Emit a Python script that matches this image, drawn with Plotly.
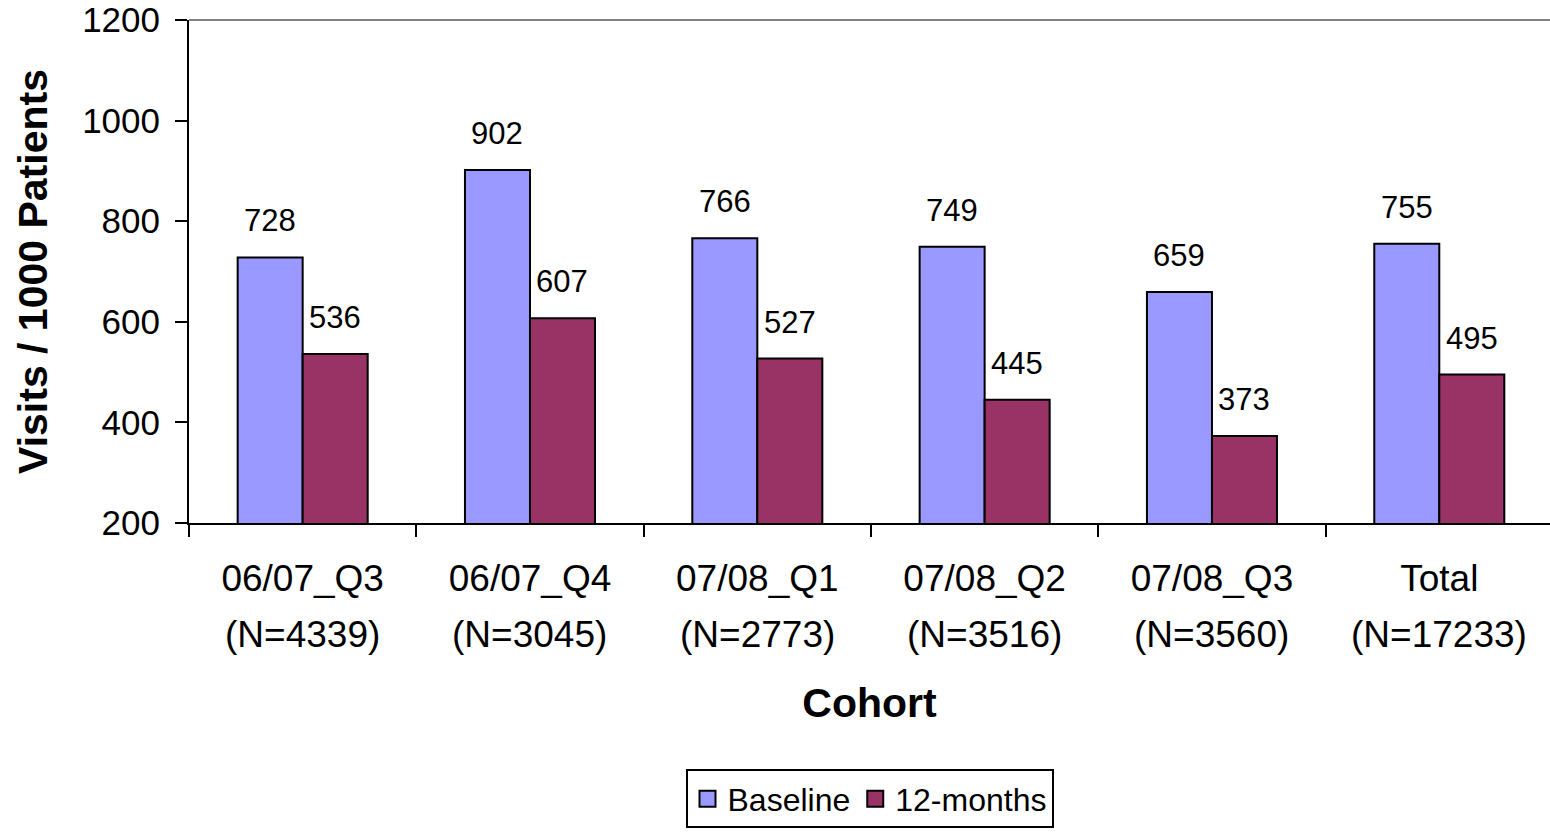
import plotly.graph_objects as go

# Cohort categories and visit rates per 1000 patients
cohorts = ["06/07_Q3", "06/07_Q4", "07/08_Q1", "07/08_Q2", "07/08_Q3", "Total"]
cohort_n = ["(N=4339)", "(N=3045)", "(N=2773)", "(N=3516)", "(N=3560)", "(N=17233)"]
baseline = [728, 902, 766, 749, 659, 755]
twelve_months = [536, 607, 527, 445, 373, 495]
y_ticks = [200, 400, 600, 800, 1000, 1200]

FONT = "Liberation Sans, Arial, sans-serif"
BLUE = "#9999FF"
MAROON = "#993366"

fig = go.Figure()
for name, vals, color in (("Baseline", baseline, BLUE), ("12-months", twelve_months, MAROON)):
    fig.add_trace(go.Bar(
        name=name, x=cohorts, y=vals, showlegend=False,
        marker=dict(color=color, line=dict(color="black", width=2)),
    ))
    # legend entry with a larger square swatch
    fig.add_trace(go.Scatter(
        name=name, x=[None], y=[None], mode="markers",
        marker=dict(symbol="square", size=17, color=color, line=dict(color="black", width=2)),
    ))

# value labels above each bar
bar_px = 65
for series, shift in ((baseline, -bar_px / 2), (twelve_months, bar_px / 2)):
    for c, v in zip(cohorts, series):
        fig.add_annotation(
            x=c, y=v, xref="x", yref="y", text=str(v), showarrow=False,
            xshift=shift, yshift=17, yanchor="bottom",
            font=dict(family=FONT, size=31, color="black"),
        )

# second line of the category labels: cohort sizes
for c, n in zip(cohorts, cohort_n):
    fig.add_annotation(
        x=c, y=0, xref="x", yref="paper", text=n, showarrow=False,
        yanchor="middle", yshift=-111,
        font=dict(family=FONT, size=37, color="black"),
    )

# grey top border of the plot area
fig.add_shape(type="line", xref="paper", yref="paper", x0=0, x1=1, y0=1, y1=1,
              line=dict(color="#808080", width=2))

fig.update_layout(
    width=1550, height=835,
    margin=dict(l=189, r=0, t=20, b=312),
    paper_bgcolor="white", plot_bgcolor="white",
    barmode="group", bargap=0.428, bargroupgap=0,
    font=dict(family=FONT, color="black"),
    showlegend=True,
    legend=dict(
        orientation="h", x=0.5, xanchor="center", y=-0.49, yanchor="top",
        bordercolor="black", borderwidth=2, bgcolor="white",
        font=dict(family=FONT, size=32, color="black"),
        itemsizing="trace", itemwidth=30,
    ),
    xaxis=dict(
        range=[-0.5, 5.487],
        tickmode="array", tickvals=cohorts, ticktext=cohorts,
        tickson="boundaries", ticks="outside", ticklen=12, tickwidth=2, tickcolor="black",
        ticklabelstandoff=22,
        showline=True, linecolor="black", linewidth=2,
        tickfont=dict(family=FONT, size=37, color="black"),
        title=dict(text="<b>Cohort</b>", font=dict(family=FONT, size=41, color="black"), standoff=90),
        showgrid=False, zeroline=False,
    ),
    yaxis=dict(
        range=[200, 1200], tickvals=y_ticks,
        ticks="outside", ticklen=12, tickwidth=2, tickcolor="black",
        ticklabelstandoff=8, ticklabeloverflow="allow",
        showline=True, linecolor="black", linewidth=2,
        tickfont=dict(family=FONT, size=35, color="black"),
        title=dict(text="<b>Visits / 1000 Patients</b>", font=dict(family=FONT, size=41, color="black"), standoff=22),
        showgrid=False, zeroline=False,
    ),
)

fig.write_html("out.html")
